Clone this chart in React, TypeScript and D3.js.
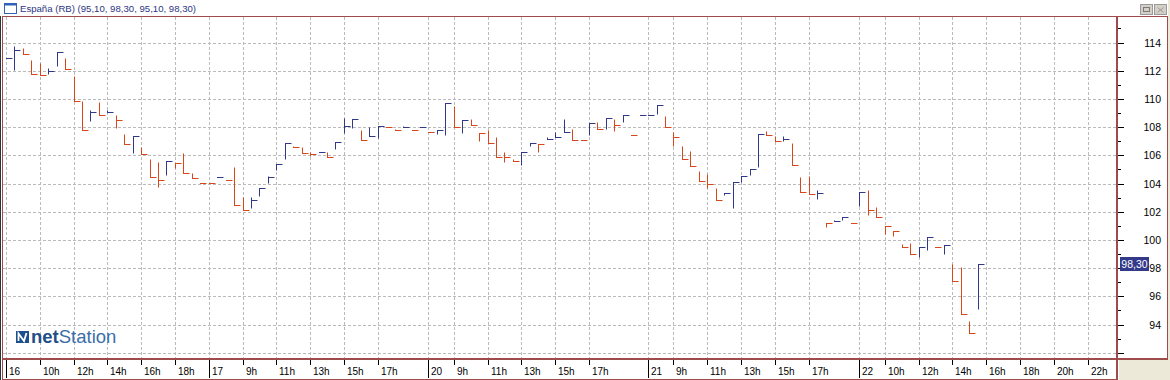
import React from "react";
import * as d3 from "d3";

// ---- data ----
const high = [112.93,113.74,113.64,112.74,112.53,112.17,113.36,112.93,111.65,109.87,109.23,109.8,109.18,108.83,107.48,107.4,106.62,105.77,105.51,105.6,105.43,106.19,104.75,104.04,104.04,104.46,104.25,105.2,103.06,103.05,103.71,104.52,105.37,106.89,106.66,106.6,106.23,106.23,106.23,106.96,108.65,108.58,107.79,108.0,108.08,108.0,107.86,108.08,107.79,108.0,107.65,107.79,109.72,109.53,108.5,108.58,107.58,107.79,107.32,106.2,105.71,106.25,106.89,106.82,107.32,107.63,108.6,107.86,107.08,108.29,108.34,108.67,108.58,108.86,107.44,108.86,108.86,109.57,108.81,107.63,106.68,106.28,104.9,104.69,103.69,103.31,104.08,104.53,105.02,107.5,107.71,107.38,107.38,106.88,104.48,104.55,103.56,101.21,101.44,101.63,101.21,103.4,103.56,102.36,101.0,100.64,99.72,99.79,99.51,100.21,99.51,99.63,98.26,98.05,94.28,98.3];
const low = [112.93,112.03,113.15,111.79,111.72,111.77,112.34,112.15,109.87,107.81,108.42,108.88,109.09,107.95,106.81,106.15,106.1,104.46,103.73,104.58,105.1,104.75,104.37,104.04,104.04,104.46,104.25,102.47,102.11,102.29,103.12,104.07,104.97,105.71,106.6,106.18,105.94,106.23,105.85,106.44,107.6,107.94,107.06,107.34,107.2,108.0,107.79,108.0,107.79,108.0,107.65,107.51,107.41,108.0,107.6,108.13,106.99,106.87,105.87,105.49,105.59,105.28,106.65,106.2,107.13,107.27,107.63,107.08,107.08,107.41,107.84,107.84,107.7,108.34,107.44,108.86,108.86,108.91,108.0,106.68,105.71,105.21,104.21,103.71,102.81,103.21,102.29,104.13,104.57,105.14,107.43,107.0,107.02,105.31,103.4,103.23,102.88,100.9,101.35,101.39,101.21,102.38,101.75,101.63,100.45,100.27,99.51,98.99,98.78,99.27,99.51,98.99,97.11,94.71,93.43,95.1];
const close = [112.93,113.5,113.15,111.79,111.72,112.0,113.36,112.15,109.87,107.81,109.09,108.88,109.09,108.52,106.81,107.4,106.1,104.46,104.25,105.6,105.43,104.75,104.37,104.04,104.04,104.46,104.25,102.47,102.11,102.84,103.71,104.45,105.37,106.89,106.6,106.18,106.11,106.23,105.85,106.96,108.08,108.58,107.06,107.34,108.08,108.0,107.79,108.0,107.79,108.0,107.65,107.79,109.72,108.0,108.5,108.13,107.58,106.87,105.87,105.85,105.59,106.25,106.89,106.82,107.13,107.27,107.63,107.08,107.08,108.29,107.84,108.67,108.17,108.86,107.44,108.86,108.86,109.57,108.0,107.3,105.71,105.21,104.21,103.95,102.81,103.31,104.08,104.53,105.02,107.5,107.43,107.0,107.14,105.31,103.4,103.23,103.3,101.21,101.35,101.63,101.21,103.4,102.15,101.63,101.0,100.64,99.51,98.99,99.51,100.21,99.51,99.63,97.11,94.71,93.43,98.3];

const tickIndex = [0,4,8,12,16,20,24,28,32,36,40,44,50,53,57,61,65,69,76,79,83,87,91,95,101,104,108,112,116,120,124,128];
const tickLabels = ["16","10h","12h","14h","16h","18h","17","9h","11h","13h","15h","17h","20","9h","11h","13h","15h","17h","21","9h","11h","13h","15h","17h","22","10h","12h","14h","16h","18h","20h","22h"];
const yMajor = [92,94,96,98,100,102,104,106,108,110,112,114];
const yMinor = [93,95,97,99,101,103,105,107,109,111,113,115];
const title = "España (RB) (95,10, 98,30, 95,10, 98,30)";
const lastLabel = "98,30";

const BLUE = "#323888";
const RED = "#d8461c";
const FRAME = "#9e4b4b";
const GRID = "#bbbbbb";

export default function App() {
  const x = d3.scaleLinear().domain([0, 128]).range([5.9, 5.9 + 8.45 * 128]);
  const y = d3.scaleLinear().domain([114, 94]).range([42.5, 324.5]);
  const px = (i: number) => Math.round(x(i)) + 0.5;
  const py = (v: number) => Math.round(y(v)) + 0.5;

  const colors: string[] = [];
  close.forEach((c, i) => {
    if (i === 0) colors.push(BLUE);
    else if (c > close[i - 1]) colors.push(BLUE);
    else if (c < close[i - 1]) colors.push(RED);
    else colors.push(colors[i - 1]);
  });

  const plotTop = 17, plotBottom = 358, plotLeft = 3, plotRight = 1116;
  const font = "'Liberation Sans', Arial, sans-serif";

  return (
    <svg width={1170} height={380} style={{ position: "absolute", left: 0, top: 0 }} fontFamily={font}>
      <rect x={0} y={0} width={1170} height={380} fill="#ece9d8" />
      <rect x={0} y={0} width={1168} height={380} fill="#ffffff" />
      {/* title bar */}
      <g>
        <rect x={4.5} y={3.5} width={12} height={10} fill="#fff" stroke="#2f62b8" />
        <rect x={4.5} y={3.5} width={12} height={2} fill="#2f62b8" />
        <text x={20} y={12} fontSize={9.6} fill="#2c3583">{title}</text>
        <rect x={1140.5} y={4.5} width={12} height={10} fill="#d4d0c8" stroke="#9a9a9a" />
        <rect x={1143.5} y={7.5} width={6} height={4} fill="none" stroke="#7a7a7a" />
        <rect x={1154.5} y={4.5} width={12} height={10} fill="#d4d0c8" stroke="#9a9a9a" />
        <path d="M1157.5,7.5 L1163.5,12.5 M1163.5,7.5 L1157.5,12.5" stroke="#9a9a9a" />
      </g>

      {/* grid */}
      <g stroke={GRID} strokeDasharray="3,2" strokeWidth={1}>
        {yMajor.map((v) => (
          <line key={"h" + v} x1={plotLeft} x2={plotRight} y1={py(v)} y2={py(v)} />
        ))}
        {tickIndex.map((t) => (
          <line key={"v" + t} x1={px(t)} x2={px(t)} y1={plotTop} y2={plotBottom} />
        ))}
      </g>

      {/* bars */}
      <g strokeWidth={1} fill="none">
        {close.map((c, i) => {
          const xi = px(i);
          let d = "";
          if (high[i] !== low[i]) d += `M${xi},${py(high[i])}V${py(low[i])}`;
          d += `M${xi - 0.5},${py(c)}H${xi + 6}`;
          return <path key={i} d={d} stroke={colors[i]} />;
        })}
      </g>

      {/* logo */}
      <g>
        <rect x={16} y={331} width={13} height={12} fill="#1c4f8c" />
        <path d="M18.5,341 L18.5,333.5 L24,341 L26.5,333" stroke="#fff" strokeWidth={1.8} fill="none" />
        <text x={31} y={343} fontSize={18.5} fill="#1f4f88">
          <tspan fontWeight="bold">net</tspan>
          <tspan fill="#3a6ea8">Station</tspan>
        </text>
      </g>

      {/* right axis */}
      <g>
        <rect x={1118} y={17} width={49} height={341} fill="#fff" />
        {yMajor.map((v) => (
          <line key={"ma" + v} x1={1118} x2={1124} y1={py(v)} y2={py(v)} stroke="#000" />
        ))}
        {yMinor.map((v) => (
          <line key={"mi" + v} x1={1118} x2={1121} y1={py(v)} y2={py(v)} stroke="#000" />
        ))}
        {yMajor.filter((v) => v >= 94).map((v) => (
          <text key={"t" + v} x={1161} y={y(v) + 4} fontSize={10.5} textAnchor="end" fill="#000">{v}</text>
        ))}
        <rect x={1120} y={Math.round(y(close[close.length - 1])) - 7} width={29} height={14} fill="#333a8a" />
        <text x={1134.5} y={Math.round(y(close[close.length - 1])) + 4} fontSize={10.5} textAnchor="middle" fill="#fff">{lastLabel}</text>
      </g>

      {/* bottom axis */}
      <g>
        <rect x={1119} y={360} width={51} height={20} fill="#ece9d8" />
        {tickIndex.map((t, k) => {
          const isDay = !tickLabels[k].endsWith("h");
          const xi = px(t);
          return (
            <g key={"xt" + k}>
              {isDay ? (
                <line x1={xi} x2={xi} y1={360} y2={378} stroke="#000" />
              ) : (
                <line x1={xi} x2={xi} y1={360} y2={365} stroke="#000" />
              )}
              <text x={xi + 2.5} y={375} fontSize={10} fill="#000">{tickLabels[k]}</text>
            </g>
          );
        })}
      </g>

      {/* frame */}
      <g stroke={FRAME} fill="none">
        <line x1={2} x2={1168} y1={16.5} y2={16.5} />
        <line x1={2.5} x2={2.5} y1={16} y2={380} />
        <line x1={0.5} x2={0.5} y1={16} y2={380} stroke="#333" />
        <line x1={1117} x2={1117} y1={16} y2={380} strokeWidth={2} />
        <line x1={1167.5} x2={1167.5} y1={16} y2={359} />
        <line x1={2} x2={1168} y1={359} y2={359} strokeWidth={2} />
        <line x1={2} x2={1118} y1={379.5} y2={379.5} />
      </g>
    </svg>
  );
}
